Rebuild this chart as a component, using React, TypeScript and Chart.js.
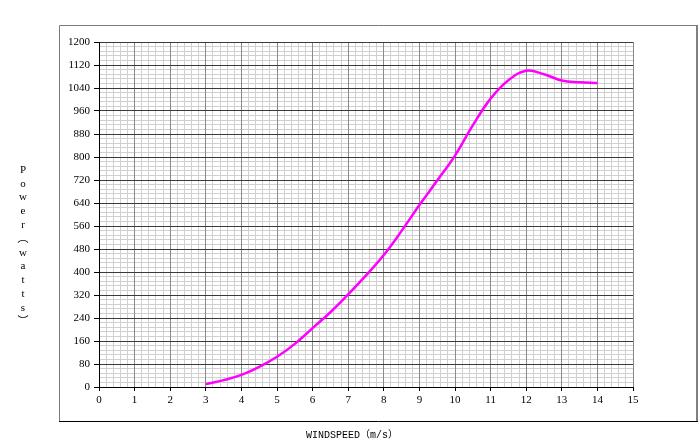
import React, { useEffect, useRef } from "react";
import { Chart, registerables } from "chart.js";

Chart.register(...registerables);

const windSpeeds = [3, 3.5, 4, 4.5, 5, 5.5, 6, 6.5, 7, 7.5, 8, 8.5, 9, 9.5, 10, 10.5, 11, 11.5, 12, 12.5, 13, 13.5, 14];
const powerWatts = [10, 24, 42, 70, 105, 150, 205, 260, 322, 388, 459, 543, 633, 718, 805, 910, 1003, 1067, 1100, 1088, 1066, 1060, 1057];

const yTitleChars = ["P", "o", "w", "e", "r", "︵", "w", "a", "t", "t", "s", "︶"];
const xTitleText = "WINDSPEED（m/s）";

const framePlugin = {
  id: "frame",
  beforeDraw(chart: any) {
    const ctx = chart.ctx;
    ctx.save();
    ctx.fillStyle = "#ffffff";
    ctx.fillRect(0, 0, chart.width, chart.height);
    ctx.strokeStyle = "#7a7a7a";
    ctx.lineWidth = 1;
    ctx.beginPath();
    ctx.moveTo(59.5, 422);
    ctx.lineTo(59.5, 25.5);
    ctx.lineTo(697, 25.5);
    ctx.stroke();
    ctx.strokeStyle = "#808080";
    ctx.lineWidth = 2;
    ctx.beginPath();
    ctx.moveTo(697, 25);
    ctx.lineTo(697, 422);
    ctx.stroke();
    ctx.strokeStyle = "#000000";
    ctx.lineWidth = 1;
    ctx.beginPath();
    ctx.moveTo(59, 421.5);
    ctx.lineTo(698, 421.5);
    ctx.stroke();
    ctx.restore();
  },
  afterDraw(chart: any) {
    const ctx = chart.ctx;
    ctx.save();
    ctx.fillStyle = "#000000";
    ctx.textAlign = "center";
    ctx.textBaseline = "middle";
    ctx.font = "11px 'Liberation Serif', 'Noto Sans CJK SC', serif";
    yTitleChars.forEach((c, i) => {
      ctx.fillText(c, 23, 170 + i * 13.8);
    });
    ctx.font = "10px 'Liberation Mono', 'Noto Sans CJK SC', monospace";
    ctx.fillText(xTitleText, 352, 435);
    ctx.restore();
  },
};

export default function App() {
  const ref = useRef<HTMLCanvasElement | null>(null);
  useEffect(() => {
    if (!ref.current) return;
    const tickFont = { family: "'Liberation Serif', serif", size: 11 };
    const chart = new Chart(ref.current, {
      type: "line",
      data: {
        datasets: [
          {
            data: windSpeeds.map((x, i) => ({ x, y: powerWatts[i] })),
            borderColor: "#ff00ff",
            borderWidth: 2.5,
            pointRadius: 0,
            tension: 0.4,
            fill: false,
          },
        ],
      },
      options: {
        responsive: false,
        animation: false,
        layout: { padding: { left: 59, top: 42, right: 67, bottom: 22 } },
        plugins: { legend: { display: false }, tooltip: { enabled: false } },
        scales: {
          xMinor: {
            type: "linear",
            position: "bottom",
            min: 0,
            max: 15,
            ticks: { display: false, stepSize: 0.2 },
            grid: { color: "#d0d0d0", lineWidth: 1, drawTicks: false, z: -2 },
            border: { display: false },
            afterFit: (s: any) => { s.height = 0; },
          },
          yMinor: {
            type: "linear",
            position: "left",
            min: 0,
            max: 1200,
            ticks: { display: false, stepSize: 16 },
            grid: { color: "#d0d0d0", lineWidth: 1, drawTicks: false, z: -2 },
            border: { display: false },
            afterFit: (s: any) => { s.width = 0; },
          },
          x: {
            type: "linear",
            position: "bottom",
            min: 0,
            max: 15,
            ticks: { stepSize: 1, color: "#000", font: tickFont, padding: 3, maxRotation: 0, callback: (v: any) => String(v) },
            grid: { color: "#8a8a8a", lineWidth: 1, tickLength: 4, tickColor: "#000" },
            border: { color: "#000", width: 1 },
            afterFit: (s: any) => { s.height = 35; },
          },
          y: {
            type: "linear",
            position: "left",
            min: 0,
            max: 1200,
            ticks: { stepSize: 80, color: "#000", font: tickFont, padding: 4, callback: (v: any) => String(v) },
            grid: { color: "#3a3a3a", lineWidth: 1, tickLength: 5, tickColor: "#000" },
            border: { color: "#000", width: 1 },
            afterFit: (s: any) => { s.width = 40; },
          },
        },
      },
      plugins: [framePlugin],
    } as any);
    return () => chart.destroy();
  }, []);
  return (
    <div style={{ position: "fixed", left: 0, top: 0, width: 700, height: 444 }}>
      <canvas ref={ref} width={700} height={444} style={{ display: "block" }} />
    </div>
  );
}
